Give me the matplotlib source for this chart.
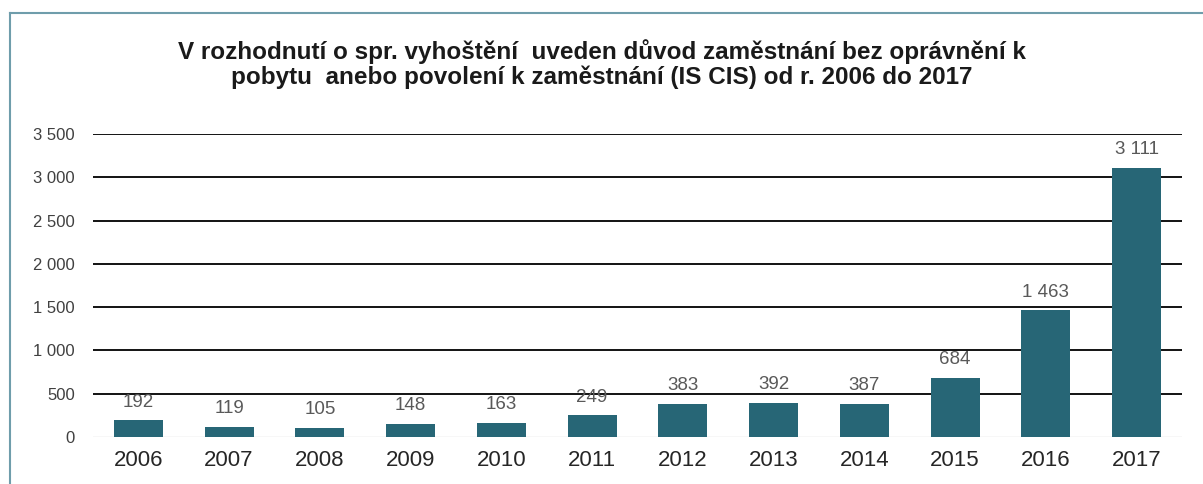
import matplotlib.pyplot as plt
from matplotlib.lines import Line2D
from matplotlib.ticker import FuncFormatter

plt.rcParams['font.family'] = ['Liberation Sans', 'DejaVu Sans']

YEARS = ['2006', '2007', '2008', '2009', '2010', '2011',
         '2012', '2013', '2014', '2015', '2016', '2017']
COUNTS = [192, 119, 105, 148, 163, 249, 383, 392, 387, 684, 1463, 3111]
Y_TICKS = [0, 500, 1000, 1500, 2000, 2500, 3000, 3500]

TITLE = ('V rozhodnutí o spr. vyhoštění  uveden důvod zaměstnání bez oprávnění k\n'
         'pobytu  anebo povolení k zaměstnání (IS CIS) od r. 2006 do 2017')
BAR_COLOR = '#276676'
FRAME_COLOR = '#6f9dab'


def fmt_thousands(v, pos=None):
    return f'{int(v):,}'.replace(',', ' ')


fig = plt.figure(figsize=(12.03, 4.84), dpi=100)
ax = fig.add_axes([0.0773, 0.0971, 0.9052, 0.626])

x = range(len(YEARS))
bars = ax.bar(x, COUNTS, width=0.54, color=BAR_COLOR, zorder=3)

for rect, val in zip(bars, COUNTS):
    ax.annotate(fmt_thousands(val), (rect.get_x() + rect.get_width() / 2, rect.get_height()),
                xytext=(0, 7), textcoords='offset points', ha='center', va='bottom',
                fontsize=13.5, color='#595959', zorder=4, annotation_clip=False)

ax.set_xlim(-0.5, len(YEARS) - 0.5)
ax.set_ylim(0, 3500)
ax.set_yticks(Y_TICKS)
ax.yaxis.set_major_formatter(FuncFormatter(fmt_thousands))
ax.set_xticks(list(x))
ax.set_xticklabels(YEARS)

for v in Y_TICKS[1:]:
    ax.axhline(v, color='black', linewidth=1.3, zorder=1)
ax.axhline(0, color='#d9d9d9', linewidth=1.0, zorder=2)

for s in ax.spines.values():
    s.set_visible(False)
ax.tick_params(axis='both', length=0)
ax.tick_params(axis='y', pad=13, labelsize=12, labelcolor='#404040')
ax.tick_params(axis='x', pad=9, labelsize=16, labelcolor='#262626')

fig.text(0.5, 0.867, TITLE, ha='center', va='center', fontsize=17.5,
         fontweight='bold', color='#1a1a1a', linespacing=1.08)

# chart frame (top and left edges visible in the source)
fig.add_artist(Line2D([10 / 1203, 1.0], [1 - 13 / 484, 1 - 13 / 484],
                      transform=fig.transFigure, color=FRAME_COLOR, linewidth=1.5))
fig.add_artist(Line2D([10 / 1203, 10 / 1203], [0.0, 1 - 13 / 484],
                      transform=fig.transFigure, color=FRAME_COLOR, linewidth=1.5))

plt.savefig('out.png', dpi=100)
